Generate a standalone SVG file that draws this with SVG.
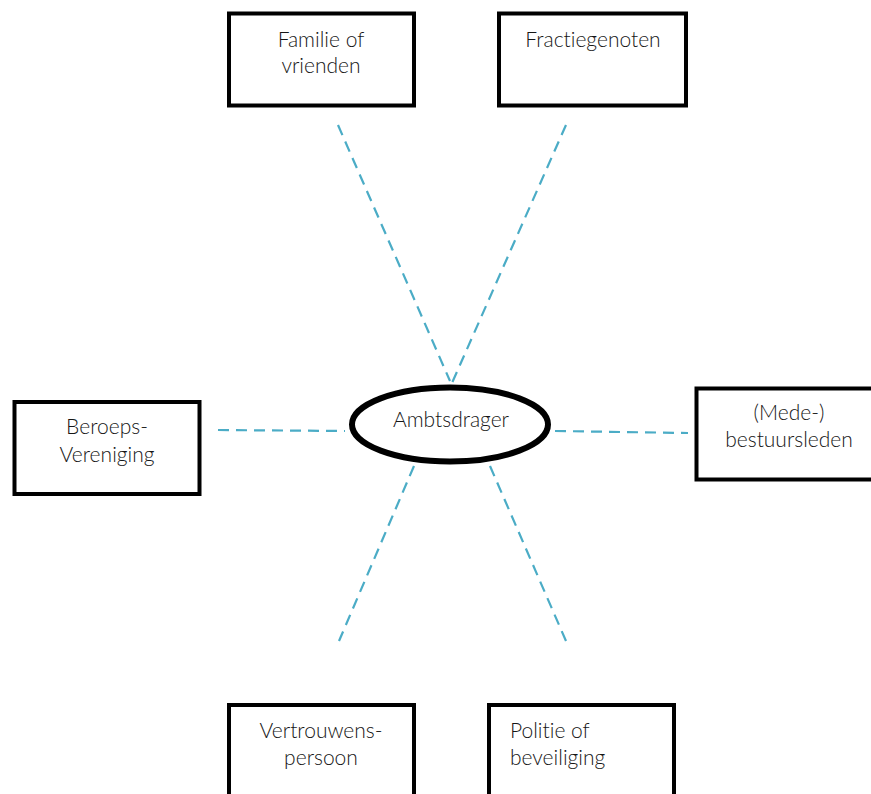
<svg xmlns="http://www.w3.org/2000/svg" width="871" height="794" viewBox="0 0 871 794">
<style>
.box{fill:#fff;stroke:#000;stroke-width:4}
.ell{fill:#fff;stroke:#000;stroke-width:6}
.t{font-family:Lato,"Noto Sans",sans-serif;font-weight:300;font-size:21px;fill:#161616;font-variant-ligatures:none}
.c{stroke:#4bacc6;stroke-width:2.2;stroke-dasharray:11 7;fill:none}
</style>
<rect width="871" height="794" fill="#fff"/>
<g id="connectors">
<line class="c" x1="338" y1="125" x2="450" y2="381"/>
<line class="c" x1="566" y1="125" x2="452" y2="383"/>
<line class="c" x1="218" y1="430" x2="345" y2="431"/>
<line class="c" x1="555" y1="431" x2="688" y2="433"/>
<line class="c" x1="414" y1="466" x2="339" y2="641"/>
<line class="c" x1="490" y1="466" x2="566" y2="641"/>
</g>
<g id="familie">
<rect class="box" x="229" y="13.5" width="185" height="92"/>
<text class="t" x="321" y="47" text-anchor="middle">Familie of</text>
<text class="t" x="321" y="73" text-anchor="middle">vrienden</text>
</g>
<g id="fractie">
<rect class="box" x="499" y="13.5" width="187" height="92"/>
<text class="t" x="593" y="47" text-anchor="middle">Fractiegenoten</text>
</g>
<g id="beroeps">
<rect class="box" x="14.5" y="402" width="185" height="92"/>
<text class="t" x="107" y="434" text-anchor="middle">Beroeps-</text>
<text class="t" x="107" y="462" text-anchor="middle">Vereniging</text>
</g>
<g id="mede">
<rect class="box" x="696.5" y="388.5" width="185" height="91"/>
<text class="t" x="789" y="420" text-anchor="middle">(Mede-)</text>
<text class="t" x="789" y="447" text-anchor="middle">bestuursleden</text>
</g>
<g id="ambtsdrager">
<ellipse class="ell" cx="450" cy="424.5" rx="98" ry="37"/>
<text class="t" x="451" y="427" text-anchor="middle">Ambtsdrager</text>
</g>
<g id="vertrouwens">
<rect class="box" x="229" y="705" width="185" height="100"/>
<text class="t" x="321" y="738" text-anchor="middle">Vertrouwens-</text>
<text class="t" x="321" y="765" text-anchor="middle">persoon</text>
</g>
<g id="politie">
<rect class="box" x="489" y="705" width="185" height="100"/>
<text class="t" x="510" y="738">Politie of</text>
<text class="t" x="510" y="765">beveiliging</text>
</g>
</svg>
